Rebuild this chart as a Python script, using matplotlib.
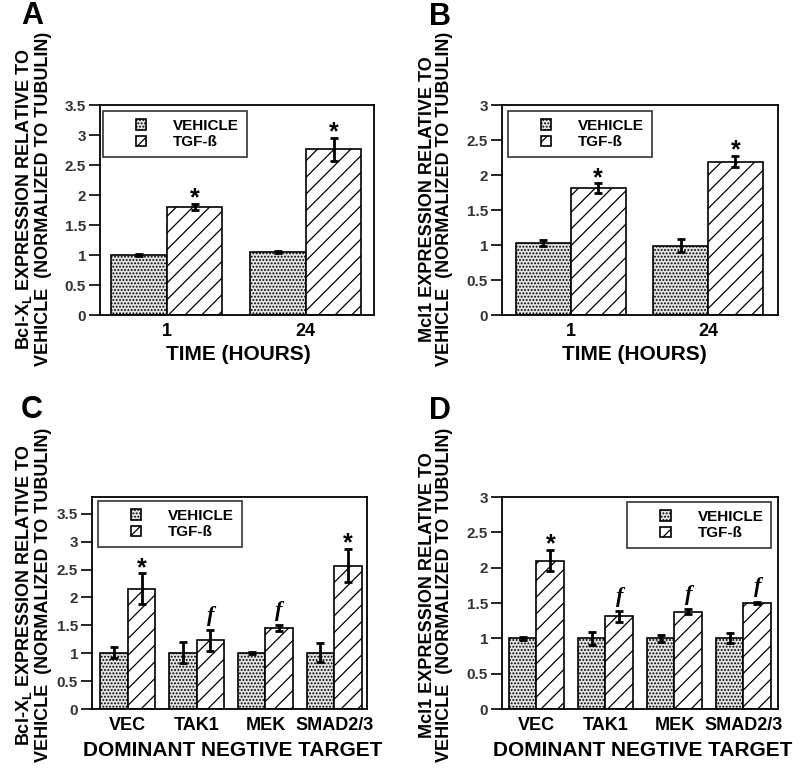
import matplotlib
matplotlib.use("Agg")
import matplotlib.pyplot as plt
import numpy as np
from matplotlib.patches import Patch, Rectangle
from matplotlib.legend_handler import HandlerPatch
from matplotlib.ticker import FormatStrFormatter

plt.rcParams["font.family"] = "Liberation Sans"
plt.rcParams["font.weight"] = "bold"
plt.rcParams["mathtext.fontset"] = "custom"
plt.rcParams["mathtext.rm"] = "Liberation Sans:bold"
plt.rcParams["mathtext.it"] = "Liberation Sans:bold"
plt.rcParams["mathtext.bf"] = "Liberation Sans:bold"
plt.rcParams["hatch.linewidth"] = 0.9

# panel A / B: time course
time_labels = ["1", "24"]
a_vehicle = [1.00, 1.05]
a_vehicle_err = [0.01, 0.02]
a_tgf = [1.80, 2.76]
a_tgf_err = [0.05, 0.19]
a_marks = ["*", "*"]

b_vehicle = [1.03, 0.99]
b_vehicle_err = [0.04, 0.09]
b_tgf = [1.81, 2.19]
b_tgf_err = [0.07, 0.08]
b_marks = ["*", "*"]

# panel C / D: dominant negative targets
target_labels = ["VEC", "TAK1", "MEK", "SMAD2/3"]
c_vehicle = [1.01, 1.01, 1.01, 1.01]
c_vehicle_err = [0.10, 0.19, 0.02, 0.17]
c_tgf = [2.16, 1.23, 1.45, 2.57]
c_tgf_err = [0.27, 0.19, 0.06, 0.30]
c_marks = ["*", "f", "f", "*"]

d_vehicle = [1.00, 1.00, 1.00, 1.00]
d_vehicle_err = [0.02, 0.09, 0.05, 0.07]
d_tgf = [2.10, 1.31, 1.38, 1.50]
d_tgf_err = [0.15, 0.08, 0.04, 0.02]
d_marks = ["*", "f", "f", "f"]

series_names = ["VEHICLE", "TGF-ß"]

BCL_LABEL = "Bcl-X$_\\mathrm{L}$ EXPRESSION RELATIVE TO\nVEHICLE  (NORMALIZED TO TUBULIN)"
MCL_LABEL = "Mcl1 EXPRESSION RELATIVE TO\nVEHICLE  (NORMALIZED TO TUBULIN)"

VEH_STYLE = dict(facecolor="#e2e2e2", edgecolor="black", hatch=".....", linewidth=1.2)
TGF_STYLE = dict(facecolor="white", edgecolor="black", hatch="//", linewidth=1.2)


def square_patch(legend, orig_handle, xdescent, ydescent, width, height, fontsize):
    s = 0.68 * fontsize
    return Rectangle((-xdescent + width / 2 - s / 2, -ydescent + height / 2 - s / 2), s, s)


def draw_panel(ax, labels, veh, veh_err, tgf, tgf_err, marks, ylim, yticks, xlim,
               legend_loc, legend_anchor):
    x = np.arange(len(labels))
    w = 0.4
    ax.bar(x - w / 2, veh, w, **VEH_STYLE)
    ax.bar(x + w / 2, tgf, w, **TGF_STYLE)
    err_kw = dict(fmt="none", ecolor="black", elinewidth=2.0, capsize=2.8, capthick=2.0)
    ax.errorbar(x - w / 2, veh, yerr=veh_err, **err_kw)
    ax.errorbar(x + w / 2, tgf, yerr=tgf_err, **err_kw)

    for xi, val, err, m in zip(x + w / 2, tgf, tgf_err, marks):
        if m == "*":
            ax.annotate("*", (xi, val + err), xytext=(0, -1), textcoords="offset points",
                        ha="center", va="baseline", fontsize=18, fontweight="bold")
        else:
            ax.annotate("f", (xi, val + err), xytext=(0, 3), textcoords="offset points",
                        ha="center", va="bottom", fontsize=16, fontweight="bold",
                        family="Liberation Serif", style="italic")

    ax.set_xlim(*xlim)
    ax.set_ylim(*ylim)
    ax.set_yticks(yticks)
    ax.yaxis.set_major_formatter(FormatStrFormatter("%g"))
    ax.set_xticks(x)
    ax.set_xticklabels(labels, fontsize=13, fontweight="bold")
    ax.tick_params(axis="x", length=0, pad=6)
    ax.tick_params(axis="y", length=8, width=1.2, labelsize=11, labelcolor="#333333", pad=2)
    for sp in ax.spines.values():
        sp.set_linewidth(1.3)

    handles = [Patch(**VEH_STYLE), Patch(**TGF_STYLE)]
    leg = ax.legend(handles, series_names, loc=legend_loc, bbox_to_anchor=legend_anchor,
                    borderaxespad=0, fontsize=11, handlelength=4.0, handletextpad=0.1,
                    borderpad=0.5, labelspacing=0.15, fancybox=False,
                    handler_map={Patch: HandlerPatch(patch_func=square_patch)})
    leg.get_frame().set_edgecolor("black")
    leg.get_frame().set_linewidth(1.2)


fig = plt.figure(figsize=(8, 7.68), dpi=100)

ax_a = fig.add_axes([0.125, 0.5898, 0.3425, 0.2734])
ax_b = fig.add_axes([0.6275, 0.5898, 0.345, 0.2734])
ax_c = fig.add_axes([0.115, 0.0768, 0.344, 0.276])
ax_d = fig.add_axes([0.6275, 0.0768, 0.345, 0.276])

draw_panel(ax_a, time_labels, a_vehicle, a_vehicle_err, a_tgf, a_tgf_err, a_marks,
           (0, 3.5), np.arange(0, 3.51, 0.5), (-0.48, 1.49), "upper left", (0.011, 0.971))
draw_panel(ax_b, time_labels, b_vehicle, b_vehicle_err, b_tgf, b_tgf_err, b_marks,
           (0, 3), np.arange(0, 3.01, 0.5), (-0.5, 1.51), "upper left", (0.022, 0.971))
draw_panel(ax_c, target_labels, c_vehicle, c_vehicle_err, c_tgf, c_tgf_err, c_marks,
           (0, 3.8), np.arange(0, 3.51, 0.5), (-0.52, 3.48), "upper left", (0.022, 0.98))
draw_panel(ax_d, target_labels, d_vehicle, d_vehicle_err, d_tgf, d_tgf_err, d_marks,
           (0, 3), np.arange(0, 3.01, 0.5), (-0.5, 3.5), "upper right", (0.975, 0.975))

W, H = 800, 768


def ftext(px, py, s, **kw):
    fig.text(px / W, 1 - py / H, s, **kw)


# panel letters
for letter, px, py in [("A", 32, 16), ("B", 440, 17), ("C", 32, 410), ("D", 440, 411)]:
    ftext(px, py, letter, fontsize=22, fontweight="bold", ha="center", va="center")

# y labels
lab_kw = dict(rotation=90, ha="center", va="center", multialignment="center",
              fontsize=13, fontweight="bold", linespacing=1.05)
ftext(33, 199, BCL_LABEL, **lab_kw)
ftext(436, 199, MCL_LABEL, **lab_kw)
ftext(33, 595, BCL_LABEL, **lab_kw)
ftext(436, 595, MCL_LABEL, **lab_kw)

# x labels
xl_kw = dict(ha="center", va="center", fontsize=15, fontweight="bold")
ftext(238, 355, "TIME (HOURS)", **xl_kw)
ftext(634, 355, "TIME (HOURS)", **xl_kw)
ftext(233, 750, "DOMINANT NEGTIVE TARGET", **xl_kw)
ftext(643, 750, "DOMINANT NEGTIVE TARGET", **xl_kw)

fig.savefig("out.png", dpi=100)
